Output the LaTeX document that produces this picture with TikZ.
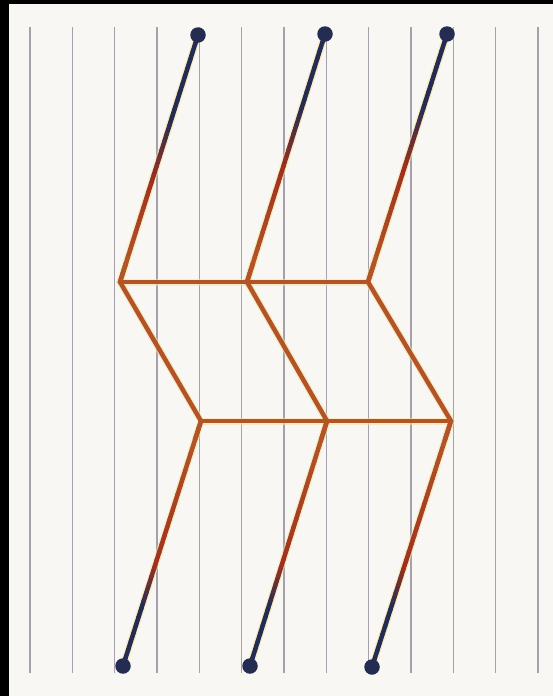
\documentclass[tikz,border=0pt]{standalone}
\usetikzlibrary{calc}
\definecolor{paper}{RGB}{248,247,243}
\definecolor{rulec}{RGB}{165,160,172}
\definecolor{navyend}{RGB}{36,44,82}
\definecolor{redc}{RGB}{160,48,30}
\definecolor{orangec}{RGB}{178,84,40}
\definecolor{haloc}{RGB}{246,228,160}
\newcommand\gradrod[4]{%
  \foreach \k in {0,...,29}{%
    \pgfmathsetmacro\ta{\k/30}%
    \pgfmathsetmacro\tb{(\k+1)/30}%
    \pgfmathsetmacro\tm{(\k+0.5)/30}%
    \pgfmathsetmacro\pa{100*max(0,min(1,(#4-\tm)/(#4-#3)))}%
    \pgfmathsetmacro\pb{100*max(0,min(1,(0.92-\tm)/(0.92-#4)))}%
    \colorlet{segA}{redc!\pb!orangec}%
    \colorlet{segB}{navyend!\pa!segA}%
    \draw[rodline, draw=segB] ($(#1)!\ta!(#2)$) -- ($(#1)!\tb!(#2)$);
  }}
\begin{document}
\begin{tikzpicture}[x=1pt,y=-1pt,
  rodline/.style={line width=4.5pt, line cap=round},
  haloline/.style={draw=haloc, line width=7pt, line join=miter, opacity=0.6},
  netline/.style={draw=orangec, line width=4.5pt, line join=miter, miter limit=10},
  ruleline/.style={draw=rulec, line width=1.1pt},
  enddot/.style={circle, fill=navyend, minimum size=15.5pt, inner sep=0pt}]
\fill[paper] (0,0) rectangle (553,696);
\fill[black] (0,0) rectangle (9,696);
\fill[black] (0,0) rectangle (553,4);
\useasboundingbox (0,0) rectangle (553,696);
\foreach \i in {0,...,12} \draw[ruleline] ({30+42.33*\i},27) -- ({30+42.33*\i},673);
% positions
\coordinate (t1) at (198,35);
\coordinate (t2) at (325,34);
\coordinate (t3) at (447,34);
\coordinate (a1) at (120,282);
\coordinate (a2) at (247,282);
\coordinate (a3) at (368,282);
\coordinate (b1) at (201,421);
\coordinate (b2) at (327,421);
\coordinate (b3) at (451,421);
\coordinate (d1) at (123,666);
\coordinate (d2) at (250,666);
\coordinate (d3) at (372,667);
% halo
\draw[haloline] (t1) -- (a1) -- (b1) -- (d1);
\draw[haloline] (t2) -- (a2) -- (b2) -- (d2);
\draw[haloline] (t3) -- (a3) -- (b3) -- (d3);
\draw[haloline] (a1) -- (a3);
\draw[haloline] (b1) -- (b3);
% graded rods
\gradrod{t1}{a1}{0.35}{0.6}
\gradrod{t2}{a2}{0.3}{0.55}
\gradrod{t3}{a3}{0.3}{0.55}
\gradrod{d1}{b1}{0.25}{0.42}
\gradrod{d2}{b2}{0.25}{0.42}
\gradrod{d3}{b3}{0.25}{0.42}
% orange network
\draw[netline] (a1) -- (a3);
\draw[netline] (b1) -- (b3);
\draw[netline] ($(a1)!0.08!(t1)$) -- (a1) -- (b1) -- ($(b1)!0.08!(d1)$);
\draw[netline] ($(a2)!0.08!(t2)$) -- (a2) -- (b2) -- ($(b2)!0.08!(d2)$);
\draw[netline] ($(a3)!0.08!(t3)$) -- (a3) -- (b3) -- ($(b3)!0.08!(d3)$);
% end dots
\foreach \p in {t1,t2,t3,d1,d2,d3} \node[enddot] (\p dot) at (\p) {};
\end{tikzpicture}
\end{document}
